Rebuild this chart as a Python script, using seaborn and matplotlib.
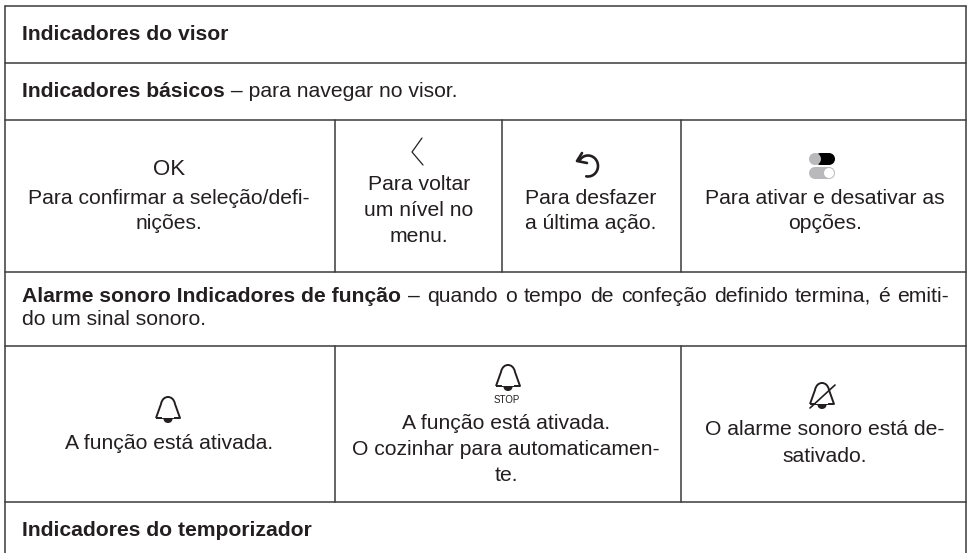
import numpy as np
import pandas as pd
import matplotlib
matplotlib.use('Agg')
import matplotlib.pyplot as plt
import seaborn as sns
from matplotlib.patches import PathPatch, Rectangle, Ellipse, FancyBboxPatch
from matplotlib.path import Path

# table layout, in pixels of the picture
h_rules = [6, 62.5, 120, 272, 346, 502]
left, right = 5, 966
v_rules = [(335, 120, 272), (502, 120, 272), (681, 120, 272), (335, 346, 502), (681, 346, 502)]

# full width rows: bold part, normal part, baseline, right end of justified text
header_rows = [
    ('Indicadores do visor', '', 40, None),
    ('Indicadores básicos', ' – para navegar no visor.', 97, None),
    ('Alarme sonoro Indicadores de função', ' – quando o tempo de confeção definido termina, é emiti-', 302, 949),
    ('Indicadores do temporizador', '', 536, None),
]
plain_lines = [('do um sinal sonoro.', 22, 325)]

# cells: centre x, baselines, lines of text
cell_x = [169, 419, 591, 825, 169, 506, 825]
cell_y = [[204, 229], [190, 216, 242], [204, 229], [204, 229], [449], [429, 455, 481], [435, 462]]
cell_text = [
    ['Para confirmar a seleção/defi-', 'nições.'],
    ['Para voltar', 'um nível no', 'menu.'],
    ['Para desfazer', 'a última ação.'],
    ['Para ativar e desativar as', 'opções.'],
    ['A função está ativada.'],
    ['A função está ativada.', 'O cozinhar para automaticamen-', 'te.'],
    ['O alarme sonoro está de-', 'sativado.'],
]

bell_x = [168, 508, 822]
bell_top = [397, 365, 383]

ink = '#231f20'

sns.set_theme(style='white')
plt.rcParams['font.family'] = ['Liberation Sans', 'DejaVu Sans']

fig = plt.figure(figsize=(9.7, 5.53), dpi=100, facecolor='white')
ax = fig.add_axes([0, 0, 1, 1])
ax.set_xlim(0, 970)
ax.set_ylim(553, 0)

# rules of the table
rows = []
for i, y in enumerate(h_rules):
    rows += [(f'h{i}', left, y), (f'h{i}', right, y)]
for i, (x, y0, y1) in enumerate(v_rules):
    rows += [(f'v{i}', x, y0), (f'v{i}', x, y1)]
rows += [('l', left, h_rules[0]), ('l', left, 553), ('r', right, h_rules[0]), ('r', right, 553)]
rules = pd.DataFrame(rows, columns=['rule', 'x', 'y'])
sns.lineplot(data=rules, x='x', y='y', units='rule', estimator=None, sort=False,
             color='#3a3a3a', linewidth=1.1, ax=ax, legend=False)

FS = 15.2


def mixed_line(bold, normal, y, end=None, x=22):
    t = ax.text(x, y, bold, fontsize=FS, fontweight='bold', color=ink, va='baseline')
    if not normal:
        return
    fig.canvas.draw()
    start = t.get_window_extent().x1
    if end is None:
        ax.text(start, y, normal, fontsize=FS, color=ink, va='baseline')
        return
    # justified line: widen the word gaps so that the line ends at the given x
    words = normal.split()
    probe = ax.text(start, y, normal, fontsize=FS, color=ink, va='baseline')
    fig.canvas.draw()
    extra = (end - probe.get_window_extent().x1) / len(words)
    probe.remove()
    gap = ax.text(0, y, ' ', fontsize=FS, color=ink)
    gap_w = ax.text(0, y, 'a a', fontsize=FS).get_window_extent().width - ax.text(0, y, 'aa', fontsize=FS).get_window_extent().width
    for extra_t in ax.texts[-3:]:
        extra_t.remove()
    pos = start
    for word in words:
        pos += gap_w + extra
        w = ax.text(pos, y, word, fontsize=FS, color=ink, va='baseline')
        pos = w.get_window_extent().x1


for bold, normal, y, end in header_rows:
    mixed_line(bold, normal, y, end)
for txt, x, y in plain_lines:
    ax.text(x, y, txt, fontsize=FS, color=ink, va='baseline')
for x, ys, lines in zip(cell_x, cell_y, cell_text):
    for y, txt in zip(ys, lines):
        ax.text(x, y, txt, fontsize=FS, color=ink, ha='center', va='baseline')

# icons
ax.text(169, 175, 'OK', fontsize=16, color=ink, ha='center', va='baseline')
ax.text(507, 403, 'STOP', fontsize=7, color=ink, ha='center', va='baseline')

# back chevron
ax.plot([422, 412, 423], [138, 152, 165], color=ink, lw=0.9)

# undo arrow
t = np.radians(np.linspace(-150, 100, 40))
ax.plot(588 + 10 * np.cos(t), 166 + 10.5 * np.sin(t), color=ink, lw=1.9)
ax.plot([582, 577, 587], [153, 161, 163], color=ink, lw=1.9)

# toggles
ax.add_patch(FancyBboxPatch((815, 153), 14, 12, boxstyle='round,pad=0,rounding_size=6', fc='black', ec='none', mutation_aspect=1))
ax.add_patch(Rectangle((822, 153), 6, 12, fc='black', ec='none'))
ax.add_patch(Ellipse((815, 159), 12, 12, fc='#b9b9bb', ec='none'))
ax.add_patch(Ellipse((829, 159), 12, 12, fc='black', ec='none'))
ax.add_patch(Rectangle((815, 167), 14, 12, fc='#b9b9bb', ec='none'))
ax.add_patch(Ellipse((815, 173), 12, 12, fc='#b9b9bb', ec='none'))
ax.add_patch(Ellipse((829, 173), 12, 12, fc='#b9b9bb', ec='none'))
ax.add_patch(Ellipse((829, 173), 10, 10, fc='white', ec='none'))


def bell(cx, top):
    h = 21
    w = 12
    verts = [(cx - w, top + h), (cx - 7, top + 7), (cx - 6, top + 2), (cx - 3, top),
             (cx, top), (cx + 3, top), (cx + 6, top + 2), (cx + 7, top + 7),
             (cx + w, top + h), (cx - w, top + h)]
    codes = [Path.MOVETO, Path.LINETO, Path.CURVE4, Path.CURVE4, Path.CURVE4, Path.CURVE4,
             Path.CURVE4, Path.CURVE4, Path.LINETO, Path.LINETO]
    ax.add_patch(PathPatch(Path(verts, codes), fc='none', ec=ink, lw=1.4, joinstyle='round'))
    ax.add_patch(Ellipse((cx, top + h + 1), 9, 8, fc=ink, ec='none', zorder=1))
    ax.add_patch(Rectangle((cx - 6, top + h - 4), 12, 4, fc='white', ec='none', zorder=1.5))


for x, y in zip(bell_x, bell_top):
    bell(x, y)
ax.plot([810, 835], [408, 385], color=ink, lw=1.2)

sns.despine(ax=ax, left=True, bottom=True)
ax.set_axis_off()
fig.savefig('out.png', dpi=100, facecolor='white')
